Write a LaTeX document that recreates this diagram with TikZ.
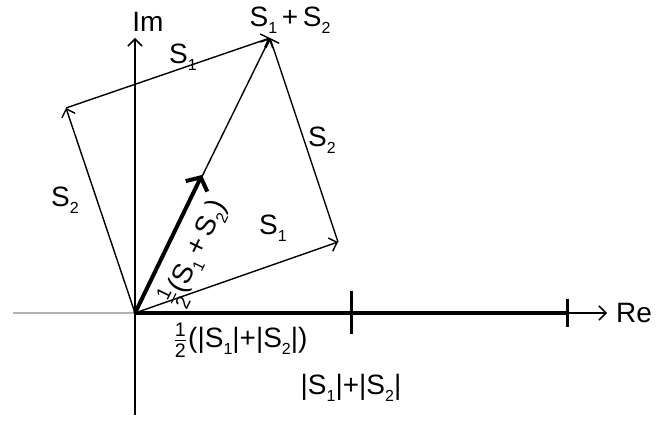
\documentclass[tikz,border=0pt]{standalone}
\usepackage{fontspec}
\setmainfont{Liberation Sans}
\usepackage{amsmath}
\usetikzlibrary{arrows.meta}
\newcommand{\Sv}[1]{S\raisebox{-0.45ex}{\fontsize{8}{9}\selectfont #1}}
\newcommand{\halfx}{$\frac{\text{1}}{\text{2}}$}
\begin{document}
\begin{tikzpicture}[
  x=0.5pt, y=-0.5pt,
  font=\fontsize{14}{16}\selectfont,
  axis/.style = {line width=0.75pt},
  vec/.style  = {line width=0.7pt, -{Straight Barb[length=3.5pt,width=7pt]}},
  bold/.style = {line width=2pt},
  tick/.style = {line width=1.5pt}
]
  \useasboundingbox (0,0) rectangle (659,421);

  % Punkte
  \coordinate (O)  at (135,313);
  \coordinate (A)  at (338,242);
  \coordinate (B)  at (66,108);
  \coordinate (C)  at (270,38);
  \coordinate (H)  at (202,175);
  \coordinate (L)  at (13,313);
  \coordinate (T1) at (351,313);
  \coordinate (T2) at (567,313);
  \coordinate (R)  at (607,313);
  \coordinate (D)  at (135,415);
  \coordinate (U)  at (135,38);

  % Achsen
  \draw[line width=1.3pt, gray!60] (L) -- (O);
  \draw[axis, -{Straight Barb[length=3.5pt,width=7pt]}] (D) -- (U);
  \draw[bold] (O) -- (T2);
  \draw[axis, -{Straight Barb[length=3.5pt,width=7pt]}] (T2) -- (R);
  \draw[tick] (351,291) -- (351,334);
  \draw[tick] (567,299) -- (567,327);

  % Zeiger
  \draw[vec] (O) -- (A);
  \draw[vec] (O) -- (B);
  \draw[vec] (B) -- (C);
  \draw[vec] (A) -- (C);
  \draw[vec] (O) -- (C);
  \draw[bold, -{Straight Barb[length=5pt,width=12pt]}] (O) -- (H)
        node[pos=0.52, sloped, below=1pt] {\halfx(\Sv{1}\,+\,\Sv{2})};

  % Beschriftung
  \node (im)  at (148,22)  {Im};
  \node (re)  at (634,313) {Re};
  \node (sum) at (290,20)  {\Sv{1}\,+\,\Sv{2}};
  \node (s1t) at (183,57)  {\Sv{1}};
  \node (s2r) at (322,140) {\Sv{2}};
  \node (s2l) at (65,200)  {\Sv{2}};
  \node (s1b) at (273,228) {\Sv{1}};
  \node (hl)  at (240,340) {\halfx(|\Sv{1}|+|\Sv{2}|)};
  \node (fl)  at (351,388) {|\Sv{1}|+|\Sv{2}|};
\end{tikzpicture}
\end{document}
